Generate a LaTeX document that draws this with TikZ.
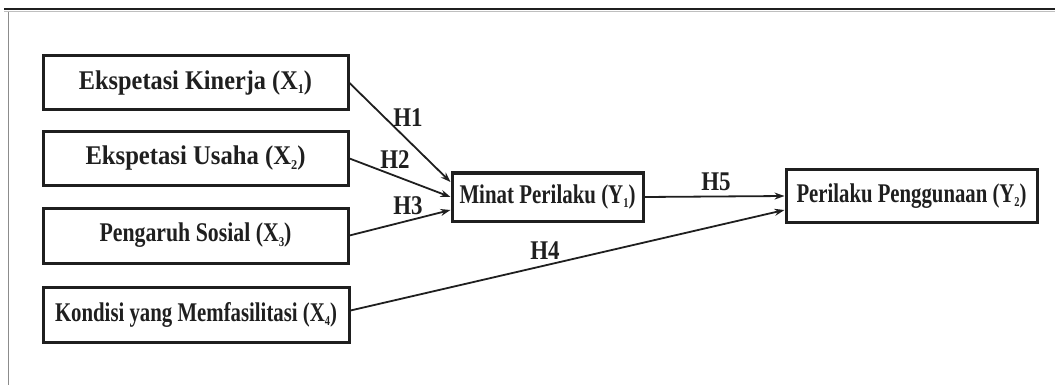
\documentclass[tikz,border=0pt]{standalone}
\usepackage{fontspec}
\usepackage{graphicx}
\setmainfont{Liberation Serif}
\usetikzlibrary{arrows.meta}
\definecolor{ink}{HTML}{1F1F1F}
\newcommand\fitw[2]{\resizebox{#1}{\height}{#2}}
\newcommand\sbs[1]{\raisebox{-0.35ex}{\scalebox{0.5}{#1}}}
\newcommand\hlab[1]{\scalebox{0.85}[1]{#1}}
\tikzset{
  varbox/.style={draw=ink, line width=3pt, inner sep=0pt, text=ink,
    font=\fontsize{27}{30}\selectfont\bfseries},
  link/.style={draw=ink, line width=1.8pt, -{Stealth[length=10pt,width=7pt]}},
  hyp/.style={text=ink, font=\fontsize{27}{30}\selectfont\bfseries, inner sep=0pt}
}
\begin{document}
\begin{tikzpicture}[x=1pt,y=-1pt]
\useasboundingbox (0,0) rectangle (1055,385);
% frame
\draw[draw=black!45, line width=1pt] (8.3,11) -- (8.3,385);
\draw[draw=black!25, line width=1.2pt] (4,11.2) -- (1055,11.2);
\draw[draw=ink, line width=1.8pt] (4,9.3) -- (1055,9.3);
% boxes
\node[varbox, minimum width=305pt, minimum height=54pt] (x1) at (195.5,83)
  {\fitw{233pt}{Ekspetasi Kinerja (X\sbs{1})}\hspace{20pt}};
\node[varbox, minimum width=305pt, minimum height=53pt] (x2) at (195.5,158.5)
  {\fitw{220pt}{Ekspetasi Usaha (X\sbs{2})}\hspace{25pt}};
\node[varbox, minimum width=305pt, minimum height=55pt] (x3) at (195.5,235.5)
  {\fitw{192pt}{Pengaruh Sosial (X\sbs{3})}};
\node[varbox, minimum width=306pt, minimum height=55pt] (x4) at (196,314.5)
  {\fitw{282pt}{Kondisi yang Memfasilitasi (X\sbs{4})}};
\node[varbox, minimum width=191pt, minimum height=48pt] (y1) at (547.5,197)
  {\fitw{176pt}{Minat Perilaku (Y\sbs{1})}};
\node[varbox, minimum width=251pt, minimum height=52pt] (y2) at (911.5,196)
  {\fitw{230pt}{Perilaku Penggunaan (Y\sbs{2})}};
% connectors
\draw[link] (x1.east) -- ([yshift=15pt]y1.west);
\draw[link] (x2.east) -- (y1.west);
\draw[link] (x3.east) -- ([yshift=-13pt]y1.west);
\draw[link] ([yshift=4pt]x4.east) -- ([yshift=-14pt]y2.west);
\draw[link] (y1.east) -- (y2.west);
% labels
\node[hyp] (h1) at (408,118) {\hlab{H1}};
\node[hyp] (h2) at (395,160) {\hlab{H2}};
\node[hyp] (h3) at (408,206) {\hlab{H3}};
\node[hyp] (h4) at (545,251) {\hlab{H4}};
\node[hyp] (h5) at (716,182) {\hlab{H5}};
\end{tikzpicture}
\end{document}
